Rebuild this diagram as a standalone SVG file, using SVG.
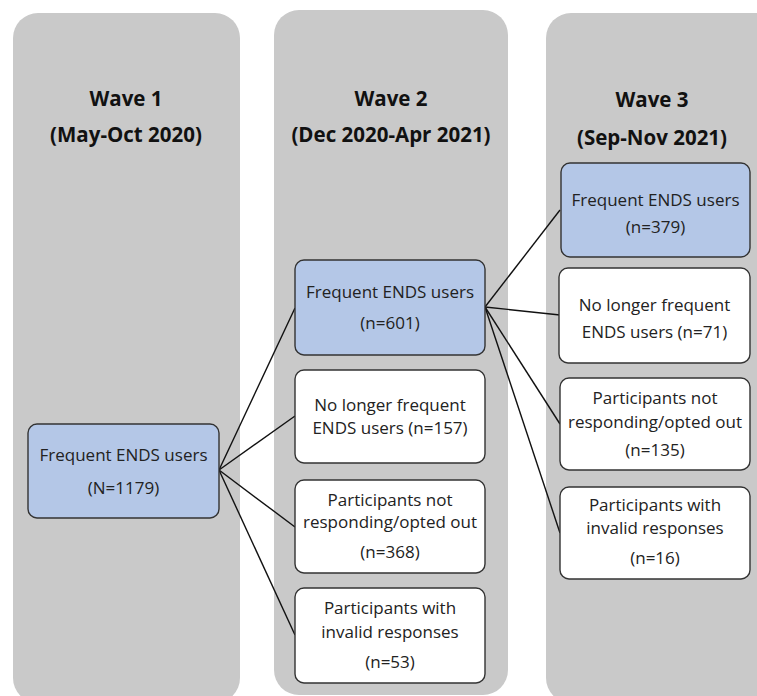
<svg xmlns="http://www.w3.org/2000/svg" width="757" height="696" viewBox="0 0 757 696">
<style>
.col{fill:#c9c9c9}
.hd{font-family:"Open Sans","Liberation Sans",sans-serif;font-weight:bold;font-size:20.5px;fill:#111;text-anchor:middle}
.bx{stroke:#333;stroke-width:1.4}
.blue{fill:#b4c7e7}
.white{fill:#fff}
.t{font-family:"Open Sans","Liberation Sans",sans-serif;font-size:17px;fill:#222;text-anchor:middle}
.ln{stroke:#111;stroke-width:1.4;fill:none}
</style>
<rect width="757" height="696" fill="#fff"/>
<g id="columns">
<rect class="col" x="13" y="13" width="227" height="690" rx="25"/>
<rect class="col" x="274" y="10" width="234" height="685" rx="25"/>
<rect class="col" x="546" y="13" width="240" height="690" rx="25"/>
<text class="hd" x="126" y="106">Wave 1</text>
<text class="hd" x="126" y="142">(May-Oct 2020)</text>
<text class="hd" x="391" y="106">Wave 2</text>
<text class="hd" x="391" y="142">(Dec 2020-Apr 2021)</text>
<text class="hd" x="652" y="107">Wave 3</text>
<text class="hd" x="652" y="145">(Sep-Nov 2021)</text>
</g>
<g id="connectors">
<line class="ln" x1="219" y1="470" x2="295" y2="308"/>
<line class="ln" x1="219" y1="470" x2="295" y2="416"/>
<line class="ln" x1="219" y1="470" x2="295" y2="527"/>
<line class="ln" x1="219" y1="470" x2="295" y2="635"/>
<line class="ln" x1="485" y1="307" x2="560" y2="210"/>
<line class="ln" x1="485" y1="307" x2="560" y2="315"/>
<line class="ln" x1="485" y1="307" x2="560" y2="424"/>
<line class="ln" x1="485" y1="307" x2="560" y2="533"/>
</g>
<g id="w1-frequent">
<rect class="bx blue" x="28" y="424" width="191" height="94" rx="9"/>
<text class="t" x="123.5" y="461">Frequent ENDS users</text>
<text class="t" x="123.5" y="494">(N=1179)</text>
</g>
<g id="w2-frequent">
<rect class="bx blue" x="295" y="260" width="190" height="95" rx="9"/>
<text class="t" x="390" y="298">Frequent ENDS users</text>
<text class="t" x="390" y="329">(n=601)</text>
</g>
<g id="w2-nolonger">
<rect class="bx white" x="295" y="370" width="190" height="93" rx="9"/>
<text class="t" x="390" y="411">No longer frequent</text>
<text class="t" x="390" y="434">ENDS users (n=157)</text>
</g>
<g id="w2-notresponding">
<rect class="bx white" x="295" y="480" width="190" height="93" rx="9"/>
<text class="t" x="390" y="506">Participants not</text>
<text class="t" x="390" y="528">responding/opted out</text>
<text class="t" x="390" y="558">(n=368)</text>
</g>
<g id="w2-invalid">
<rect class="bx white" x="295" y="588" width="190" height="95" rx="9"/>
<text class="t" x="390" y="614">Participants with</text>
<text class="t" x="390" y="638">invalid responses</text>
<text class="t" x="390" y="668">(n=53)</text>
</g>
<g id="w3-frequent">
<rect class="bx blue" x="561" y="163" width="189" height="94" rx="9"/>
<text class="t" x="655.5" y="206">Frequent ENDS users</text>
<text class="t" x="655.5" y="233">(n=379)</text>
</g>
<g id="w3-nolonger">
<rect class="bx white" x="559" y="268" width="191" height="95" rx="9"/>
<text class="t" x="654.5" y="311">No longer frequent</text>
<text class="t" x="654.5" y="338">ENDS users (n=71)</text>
</g>
<g id="w3-notresponding">
<rect class="bx white" x="560" y="378" width="190" height="92" rx="9"/>
<text class="t" x="655" y="404">Participants not</text>
<text class="t" x="655" y="428">responding/opted out</text>
<text class="t" x="655" y="456">(n=135)</text>
</g>
<g id="w3-invalid">
<rect class="bx white" x="560" y="487" width="190" height="92" rx="9"/>
<text class="t" x="655" y="511">Participants with</text>
<text class="t" x="655" y="534">invalid responses</text>
<text class="t" x="655" y="564">(n=16)</text>
</g>
</svg>
